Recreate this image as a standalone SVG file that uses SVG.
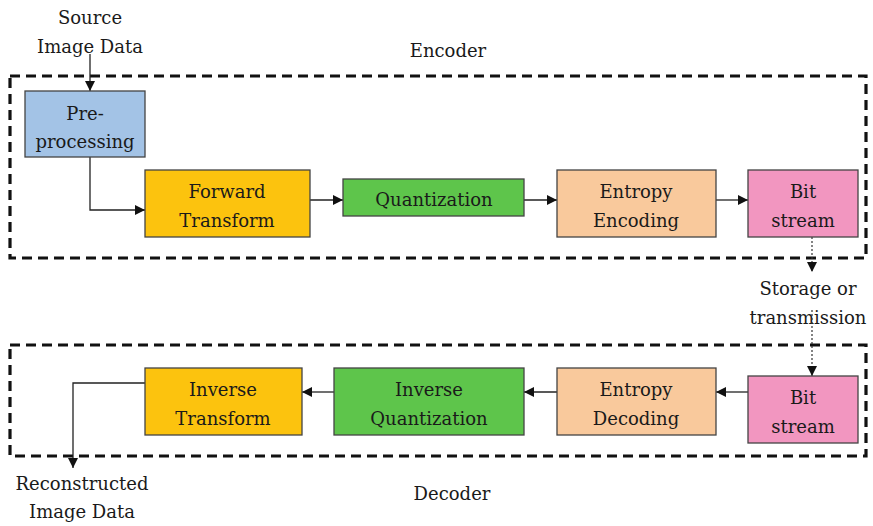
<svg xmlns="http://www.w3.org/2000/svg" width="873" height="526" viewBox="0 0 873 526">
<style>
text{font-family:"DejaVu Serif",serif;font-size:18px;fill:#1a1a1a;text-anchor:middle}
.box{stroke:#444;stroke-width:1.3}
.frame{fill:none;stroke:#111;stroke-width:3.2;stroke-dasharray:10 6}
.c{fill:none;stroke:#222;stroke-width:1.3}
.d{fill:none;stroke:#333;stroke-width:1.2;stroke-dasharray:2 2}
</style>
<defs>
<marker id="ah" viewBox="0 0 10 10" refX="10" refY="5" markerWidth="10" markerHeight="10" markerUnits="userSpaceOnUse" orient="auto"><path d="M0,0L10,5L0,10z" fill="#111"/></marker>
</defs>
<rect width="873" height="526" fill="#fff"/>
<g id="frames">
<rect class="frame" x="10" y="76" width="856" height="182"/>
<rect class="frame" x="10" y="345" width="856" height="111"/>
</g>
<g id="labels">
<text x="90" y="24">Source</text>
<text x="90" y="53">Image Data</text>
<text x="448" y="57">Encoder</text>
<text x="808" y="295">Storage or</text>
<text x="808" y="324">transmission</text>
<text x="452" y="500">Decoder</text>
<text x="82" y="490">Reconstructed</text>
<text x="82" y="518">Image Data</text>
</g>
<g id="connectors">
<path class="c" d="M90,54V91" marker-end="url(#ah)"/>
<path class="c" d="M90,157V210H145" marker-end="url(#ah)"/>
<path class="c" d="M310,200H343" marker-end="url(#ah)"/>
<path class="c" d="M524,200H557" marker-end="url(#ah)"/>
<path class="c" d="M716,200H748" marker-end="url(#ah)"/>
<path class="d" d="M812,237V272" marker-end="url(#ah)"/>
<path class="d" d="M812,310V376" marker-end="url(#ah)"/>
<path class="c" d="M748,392H716" marker-end="url(#ah)"/>
<path class="c" d="M557,392H524" marker-end="url(#ah)"/>
<path class="c" d="M334,392H302" marker-end="url(#ah)"/>
<path class="c" d="M145,383H73V468" marker-end="url(#ah)"/>
</g>
<g id="preprocessing"><rect class="box" x="25" y="91" width="120" height="66" fill="#a3c3e6"/><text x="85" y="120">Pre-</text><text x="85" y="148">processing</text></g>
<g id="forward"><rect class="box" x="145" y="170" width="165" height="67" fill="#fcc30e"/><text x="227" y="198">Forward</text><text x="227" y="227">Transform</text></g>
<g id="quant"><rect class="box" x="343" y="179" width="181" height="37" fill="#5ec54b"/><text x="434" y="206">Quantization</text></g>
<g id="entenc"><rect class="box" x="557" y="170" width="159" height="67" fill="#f9c99c"/><text x="636" y="198">Entropy</text><text x="636" y="227">Encoding</text></g>
<g id="bit1"><rect class="box" x="748" y="170" width="110" height="67" fill="#f296c0"/><text x="803" y="198">Bit</text><text x="803" y="227">stream</text></g>
<g id="bit2"><rect class="box" x="748" y="376" width="110" height="67" fill="#f296c0"/><text x="803" y="404">Bit</text><text x="803" y="433">stream</text></g>
<g id="entdec"><rect class="box" x="557" y="368" width="159" height="67" fill="#f9c99c"/><text x="636" y="396">Entropy</text><text x="636" y="425">Decoding</text></g>
<g id="invquant"><rect class="box" x="334" y="368" width="190" height="67" fill="#5ec54b"/><text x="429" y="396">Inverse</text><text x="429" y="425">Quantization</text></g>
<g id="invtrans"><rect class="box" x="145" y="368" width="157" height="67" fill="#fcc30e"/><text x="223" y="396">Inverse</text><text x="223" y="425">Transform</text></g>
</svg>
